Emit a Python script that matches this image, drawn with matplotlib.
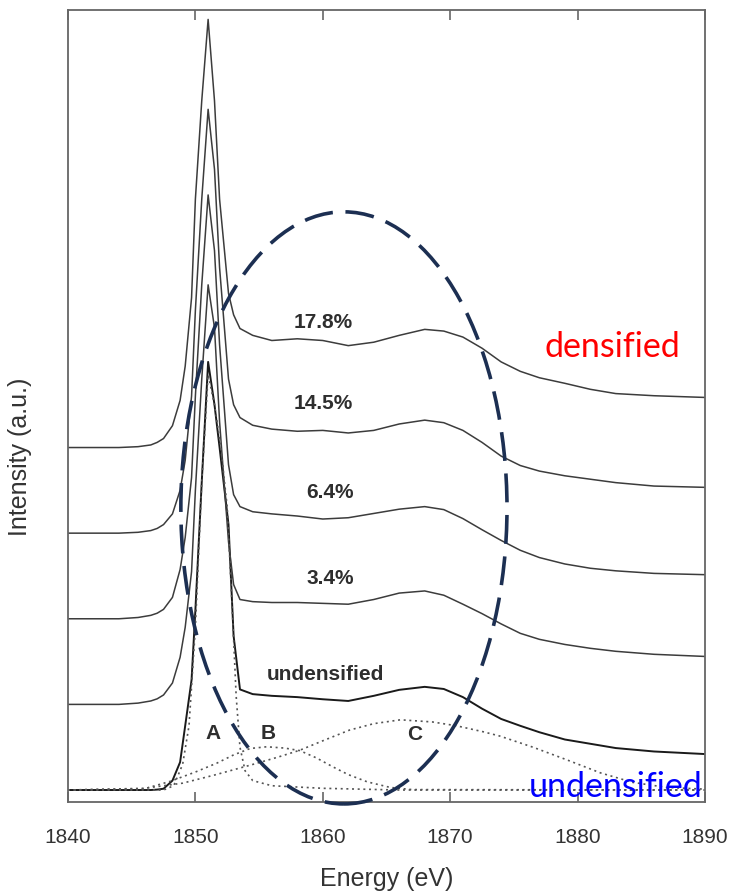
import matplotlib
matplotlib.use("Agg")
import matplotlib.pyplot as plt
from matplotlib.patches import Ellipse

plt.rcParams['font.family'] = ['Liberation Sans', 'DejaVu Sans']

# energy grid (eV) shared by the measured spectra
energy = [1840, 1844, 1845.5, 1846.5, 1847.0, 1847.5, 1848.2, 1848.8, 1849.2, 1849.7, 1850.0,
          1850.5, 1851.0, 1851.5, 1851.9, 1852.6, 1853.0, 1853.5, 1854.5, 1856, 1858,
          1860, 1862, 1864, 1866, 1868, 1869.5, 1871, 1872.5, 1874, 1875.5,
          1877, 1879, 1881, 1883, 1886, 1890]

# normalised intensities, each relative to its own baseline
spec_178 = [0, 0, 0.002, 0.006, 0.012, 0.021, 0.051, 0.11, 0.19, 0.35, 0.58,
            0.81, 1.00, 0.81, 0.58, 0.36, 0.31, 0.278, 0.262, 0.250, 0.254,
            0.250, 0.238, 0.246, 0.262, 0.276, 0.272, 0.258, 0.232, 0.200, 0.178,
            0.163, 0.150, 0.136, 0.126, 0.121, 0.117]
spec_145 = [0, 0, 0.002, 0.006, 0.011, 0.020, 0.045, 0.10, 0.17, 0.32, 0.52,
            0.78, 0.99, 0.85, 0.62, 0.36, 0.30, 0.270, 0.252, 0.243, 0.238,
            0.240, 0.234, 0.240, 0.255, 0.264, 0.258, 0.240, 0.212, 0.180, 0.158,
            0.145, 0.134, 0.126, 0.118, 0.110, 0.107]
spec_64 = [0, 0, 0.003, 0.008, 0.013, 0.022, 0.050, 0.115, 0.19, 0.33, 0.52,
           0.78, 0.99, 0.86, 0.64, 0.36, 0.29, 0.262, 0.250, 0.245, 0.240,
           0.233, 0.236, 0.246, 0.256, 0.262, 0.255, 0.234, 0.208, 0.183, 0.160,
           0.143, 0.128, 0.118, 0.112, 0.106, 0.103]
spec_34 = [0, 0, 0.003, 0.008, 0.013, 0.022, 0.050, 0.11, 0.18, 0.31, 0.50,
           0.76, 0.98, 0.88, 0.66, 0.38, 0.28, 0.245, 0.240, 0.238, 0.238,
           0.236, 0.234, 0.245, 0.260, 0.265, 0.255, 0.234, 0.212, 0.188, 0.166,
           0.152, 0.140, 0.131, 0.124, 0.117, 0.112]
spec_und = [0, 0, 0, 0, 0.001, 0.003, 0.022, 0.065, 0.15, 0.257, 0.42,
            0.72, 1.00, 0.90, 0.80, 0.62, 0.36, 0.235, 0.224, 0.220, 0.217,
            0.212, 0.208, 0.220, 0.234, 0.241, 0.236, 0.217, 0.190, 0.166, 0.150,
            0.135, 0.118, 0.108, 0.098, 0.090, 0.084]

spectra = [spec_und, spec_34, spec_64, spec_145, spec_178]
labels = ['undensified', '3.4%', '6.4%', '14.5%', '17.8%']
offsets = [0.0, 0.2, 0.4, 0.6, 0.8]
label_x = [1860.2, 1860.6, 1860.6, 1860.0, 1860.0]
label_y = [0.269, 0.495, 0.694, 0.902, 1.091]

# fitted components of the undensified spectrum
a_energy = [1840, 1847.5, 1848.3, 1849.0, 1849.5, 1850.0, 1850.5, 1851.0, 1851.5, 1852.0,
            1852.5, 1852.9, 1853.2, 1853.5, 1853.9, 1854.5, 1856, 1860, 1866, 1890]
a_peak = [0, 0, 0.01, 0.06, 0.15, 0.38, 0.72, 0.97, 0.90, 0.80,
          0.66, 0.42, 0.22, 0.10, 0.045, 0.022, 0.01, 0.004, 0, 0]
b_energy = [1840, 1846, 1848, 1850, 1851.7, 1853, 1854.3, 1855.6, 1857, 1858.2,
            1859.5, 1860.8, 1862, 1863.5, 1865.3, 1867, 1890]
b_peak = [0, 0.003, 0.02, 0.042, 0.063, 0.082, 0.097, 0.101, 0.098, 0.092,
          0.075, 0.054, 0.036, 0.019, 0.006, 0.001, 0]
c_energy = [1840, 1846, 1849, 1851.5, 1854.3, 1856.5, 1858.2, 1860, 1862.1, 1864,
            1866.1, 1868.6, 1870.5, 1872.6, 1873.9, 1876.5, 1879.2, 1881.8, 1884.3, 1887, 1890]
c_peak = [0, 0.004, 0.016, 0.035, 0.058, 0.077, 0.093, 0.115, 0.14, 0.155,
          0.164, 0.159, 0.15, 0.136, 0.126, 0.10, 0.07, 0.04, 0.018, 0.006, 0.002]

fig = plt.figure(figsize=(7.31, 8.93), dpi=100)
ax = fig.add_axes([0.093, 0.1019, 0.8714, 0.8869])

for spec, off, lab, lx, ly in zip(spectra, offsets, labels, label_x, label_y):
    y = [v + off for v in spec]
    if lab == 'undensified':
        ax.plot(energy, y, color='#1a1a1a', lw=1.4)
    else:
        ax.plot(energy, y, color='#3c3c3c', lw=1.1)
    ax.text(lx, ly, lab, ha='center', va='center', fontsize=15,
            fontweight='bold', color='#2e2e2e')

dot = (0, (1.2, 2.2))
ax.plot(a_energy, a_peak, color='#555555', lw=1.2, ls=dot)
ax.plot(b_energy, b_peak, color='#555555', lw=1.2, ls=dot)
ax.plot(c_energy, c_peak, color='#555555', lw=1.2, ls=dot)
for t, tx, ty in zip(['A', 'B', 'C'], [1851.4, 1855.7, 1867.2], [0.133, 0.133, 0.129]):
    ax.text(tx, ty, t, ha='center', va='center', fontsize=15, fontweight='bold', color='#2e2e2e')

ell = Ellipse((1861.66, 0.659), 25.6, 1.383, fill=False, ec='#1c2f52', lw=2.6,
              ls=(0, (8, 3.5)), clip_on=False, zorder=5)
ax.add_patch(ell)

ax.text(1882.7, 1.035, 'densified', color='red', fontsize=24.5, family=['Lato', 'DejaVu Sans'],
        ha='center', va='center')
ax.text(1883.0, 0.006, 'undensified', color='blue', fontsize=24.5, family=['Lato', 'DejaVu Sans'],
        ha='center', va='center', zorder=6)

ax.set_xlim(1840, 1890)
ax.set_ylim(-0.028, 1.822)
ax.set_xticks([1840, 1850, 1860, 1870, 1880, 1890])
ax.set_yticks([])
ax.tick_params(axis='x', direction='in', top=True, length=7, width=1.2, color='#666666',
               labelsize=15, labelcolor='#333333', pad=19)
for s in ax.spines.values():
    s.set_color('#666666')
    s.set_linewidth(1.3)

ax.set_xlabel('Energy (eV)', fontsize=18, color='#333333', labelpad=14)
ax.set_ylabel('Intensity (a.u.)', fontsize=18, color='#333333')
ax.yaxis.set_label_coords(-0.0565, 0.436)

plt.savefig('out.png', dpi=100)
